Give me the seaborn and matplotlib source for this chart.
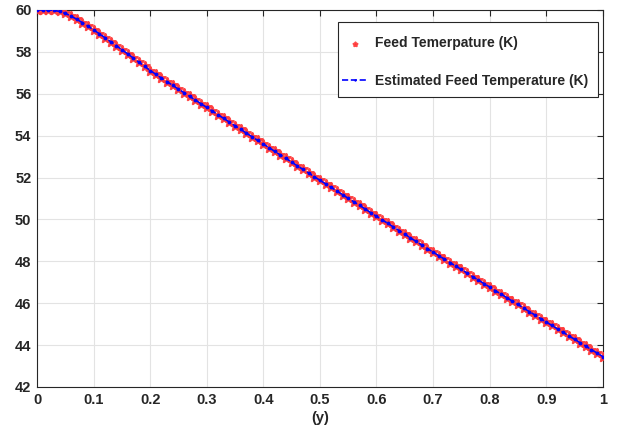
import numpy as np
import pandas as pd
import matplotlib
matplotlib.use("Agg")
import matplotlib.pyplot as plt
from matplotlib.patches import Rectangle
import seaborn as sns

temp_values = [
    60.00, 60.00, 60.00, 59.98, 59.93, 59.84, 59.71, 59.56, 59.40, 59.23,
    59.05, 58.87, 58.68, 58.49, 58.30, 58.10, 57.91, 57.71, 57.51, 57.31,
    57.11, 56.93, 56.75, 56.57, 56.40, 56.22, 56.05, 55.87, 55.70, 55.52,
    55.35, 55.17, 55.00, 54.82, 54.65, 54.47, 54.30, 54.12, 53.95, 53.77,
    53.60, 53.43, 53.25, 53.08, 52.91, 52.74, 52.56, 52.39, 52.22, 52.04,
    51.87, 51.70, 51.53, 51.36, 51.18, 51.01, 50.84, 50.67, 50.50, 50.32,
    50.15, 49.98, 49.81, 49.64, 49.47, 49.30, 49.12, 48.95, 48.78, 48.61,
    48.44, 48.27, 48.11, 47.94, 47.77, 47.61, 47.44, 47.27, 47.10, 46.94,
    46.77, 46.60, 46.44, 46.27, 46.10, 45.94, 45.77, 45.60, 45.44, 45.27,
    45.10, 44.94, 44.77, 44.61, 44.44, 44.28, 44.11, 43.95, 43.78, 43.62,
    43.45,
]
y_positions = np.linspace(0, 1, len(temp_values))
estimated_values = list(temp_values)

series1_label = "Feed Temerpature (K)"
series2_label = "Estimated Feed Temperature (K)"
x_label = "(y)"
x_ticks = [0, 0.1, 0.2, 0.3, 0.4, 0.5, 0.6, 0.7, 0.8, 0.9, 1]
x_ticklabels = ["0", "0.1", "0.2", "0.3", "0.4", "0.5", "0.6", "0.7", "0.8", "0.9", "1"]
y_ticks = [42, 44, 46, 48, 50, 52, 54, 56, 58, 60]

df = pd.DataFrame({"y": y_positions, "T": temp_values, "Test": estimated_values})

sns.set_style("white")
plt.rcParams["font.family"] = ["Liberation Sans", "DejaVu Sans"]
plt.rcParams["font.weight"] = "bold"

fig = plt.figure(figsize=(6.17, 4.36), dpi=100)
ax = fig.add_axes([0.060, 0.1124, 0.917, 0.8647])

sns.scatterplot(data=df, x="y", y="T", ax=ax, marker="*", s=42, color="#ff1a1a",
                edgecolor="#ff3838", linewidth=1.6, alpha=0.9,
                label=series1_label, zorder=3)
sns.lineplot(data=df, x="y", y="Test", ax=ax, color="blue", linestyle="--",
             linewidth=1.2, marker=".", markersize=4, markeredgecolor="blue",
             label=series2_label, zorder=4)

ax.set_xlim(0, 1)
ax.set_ylim(42, 60)
ax.set_xticks(x_ticks)
ax.set_xticklabels(x_ticklabels)
ax.set_yticks(y_ticks)
ax.set_xlabel(x_label, fontsize=10.5, fontweight="bold", color="#262626", labelpad=3)
ax.set_ylabel("")

ax.grid(True, color="#e3e3e3", linewidth=0.8)
ax.set_axisbelow(True)
for sp in ax.spines.values():
    sp.set_color("#262626")
    sp.set_linewidth(0.8)
    sp.set_visible(True)
ax.tick_params(direction="in", length=4, width=0.8, color="#262626",
               top=True, right=True, labelsize=10.5, labelcolor="#262626", pad=4)
for lab in ax.get_xticklabels() + ax.get_yticklabels():
    lab.set_fontweight("bold")

# legend frame (MATLAB-style, roomy padding)
ax.add_patch(Rectangle((0.532, 0.769), 0.459, 0.199, transform=ax.transAxes,
                       facecolor="white", edgecolor="#262626", linewidth=0.8,
                       zorder=6, clip_on=False))
leg = ax.legend(loc="center left", bbox_to_anchor=(0.539, 0.862), fontsize=10.0,
                frameon=False, labelspacing=1.7, handlelength=1.85,
                borderpad=0.0, handletextpad=0.5, borderaxespad=0.0,
                markerscale=0.45)
leg.set_zorder(7)
for t in leg.get_texts():
    t.set_fontweight("bold")

fig.savefig("out.png", dpi=100)
